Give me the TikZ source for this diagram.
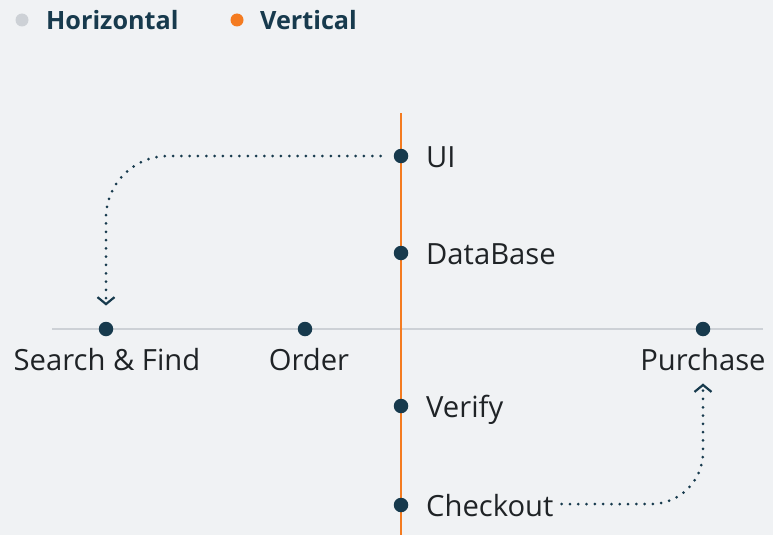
\documentclass[tikz,border=0pt]{standalone}
\usepackage{fontspec}
\setmainfont{Open Sans}
\usetikzlibrary{arrows.meta}
\definecolor{bg}{HTML}{F0F2F4}
\definecolor{navy}{HTML}{173A4D}
\definecolor{ink}{HTML}{1F2326}
\definecolor{axisgray}{HTML}{CDD1D6}
\definecolor{vorange}{HTML}{F47B20}
\begin{document}
\begin{tikzpicture}[x=1pt, y=-1pt,
  dot/.style={circle, fill=navy, inner sep=0pt, minimum size=14.5pt},
  lbl/.style={font=\fontsize{29.2}{32}\selectfont, text=ink, inner sep=0pt},
  legend/.style={font=\bfseries\fontsize{25.2}{28}\selectfont, text=navy, inner sep=0pt, anchor=base west},
  link/.style={navy, line width=3pt, line cap=round, dash pattern=on 0pt off 8.3pt,
    -{Straight Barb[length=7pt, width=17pt, line width=2.2pt]}}]
\fill[bg] (0,0) rectangle (773,535);
\useasboundingbox (0,0) rectangle (773,535);

% Legend
\fill[axisgray] (22,20) circle (6.5pt);
\node[legend] (hkey) at (46,30) {Horizontal};
\fill[vorange] (237,20) circle (6.5pt);
\node[legend] (vkey) at (260,30) {Vertical};

% Axes
\draw[axisgray, line width=2pt] (52,329) -- (763,329);
\draw[vorange, line width=2.2pt] (401,113) -- (401,535);

% Horizontal steps
\node[dot] (search) at (106,329) {};
\node[dot] (order) at (305,329) {};
\node[dot] (purchase) at (703,329) {};
\node[lbl, anchor=base] (searchlbl) at (107,370) {Search \& Find};
\node[lbl, anchor=base] (orderlbl) at (309,370) {Order};
\node[lbl, anchor=base] (purchaselbl) at (703,370) {Purchase};

% Vertical steps
\node[dot] (ui) at (401,156) {};
\node[dot] (db) at (401,253) {};
\node[dot] (verify) at (401,406) {};
\node[dot] (checkout) at (401,505) {};
\node[lbl, anchor=base west] (uilbl) at (426,167) {UI};
\node[lbl, anchor=base west] (dblbl) at (426,264) {DataBase};
\node[lbl, anchor=base west] (verifylbl) at (426,417) {Verify};
\node[lbl, anchor=base west] (checkoutlbl) at (426,516) {Checkout};

% Links
\draw[link, rounded corners=62pt] ([xshift=-13pt]ui.west) -| ([yshift=16pt]search.north);
\draw[link, rounded corners=52pt] ([xshift=8pt,yshift=1pt]checkoutlbl.east) -| ([yshift=-13pt]purchaselbl.south);
\end{tikzpicture}
\end{document}
